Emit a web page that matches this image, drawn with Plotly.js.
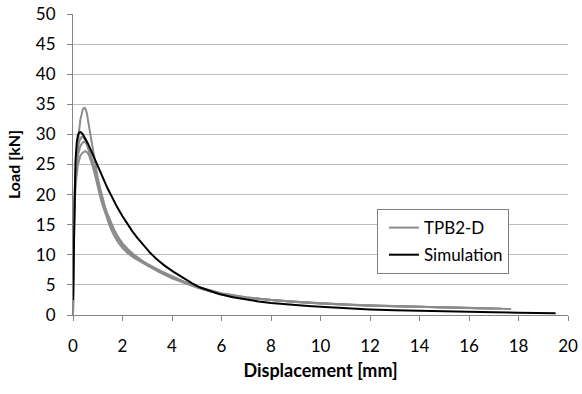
<!DOCTYPE html>
<html><head><meta charset="utf-8">
<script src="https://cdn.plot.ly/plotly-3.0.1.min.js"></script>
<style>body{margin:0;padding:0;background:#fff}#chart{width:582px;height:394px}</style>
</head><body><div id="chart"></div>
<script>
// Experimental specimens (TPB2-D)
const expA_x = [0,0.02,0.05,0.1,0.15,0.2,0.25,0.3,0.35,0.4,0.45,0.48,0.52,0.57,0.62,0.7,0.8,0.9,1.0,1.1,1.2,1.3,1.4,1.5,1.6,1.8,2.0,2.3,2.6,3.0,3.5,4.0,4.5,5.0,5.5,6,7,8,9,10,11,12,13,14,15,16,17,17.7];
const expA_y = [0,8,16,22,25.5,28.5,30.8,32.5,33.6,34.2,34.4,34.4,34.1,33.3,32,30,27.5,25,22.8,21,19.3,17.8,16.5,15.4,14.4,12.9,11.7,10.4,9.4,8.4,7.3,6.3,5.4,4.6,4.0,3.5,2.85,2.45,2.15,1.92,1.72,1.55,1.45,1.35,1.28,1.2,1.12,1.0];
const expB_x = [0,0.02,0.05,0.1,0.15,0.2,0.25,0.3,0.35,0.39,0.45,0.5,0.58,0.65,0.8,0.9,1.0,1.1,1.2,1.35,1.5,1.65,1.8,2.0,2.2,2.5,2.8,3.0,3.5,4.0,4.5,5.0,5.5,6,7,8,9,10,11,12,13,14,15,16,17.3];
const expB_y = [0,10,19,24,26.3,27.8,28.8,29.3,29.6,29.6,29.4,29,28.2,27.2,24.8,23,21.2,19.6,18.2,16.3,14.6,13.3,12.2,11.1,10.3,9.4,8.7,8.2,7.1,6.1,5.3,4.6,4.0,3.5,2.85,2.45,2.15,1.9,1.7,1.55,1.45,1.35,1.27,1.2,1.08];
const expC_x = [0,0.02,0.05,0.1,0.15,0.2,0.3,0.38,0.45,0.52,0.6,0.7,0.8,0.9,1.0,1.1,1.2,1.35,1.5,1.65,1.8,2.0,2.2,2.5,2.8,3.0,3.5,4.0,4.5,5.0,5.5,6,7,8,9,10,11,12,13,14,15,16.5];
const expC_y = [0,9,18,23,25.2,26.6,28.1,28.6,28.8,28.6,28,26.9,25.5,23.9,22.2,20.6,19.1,17.2,15.6,14.3,13.1,11.9,11.0,9.9,9.0,8.5,7.4,6.4,5.5,4.7,4.05,3.55,2.9,2.5,2.2,1.95,1.74,1.58,1.47,1.37,1.28,1.12];
const expD_x = [0,0.02,0.05,0.1,0.15,0.2,0.3,0.4,0.5,0.58,0.65,0.75,0.85,1.0,1.1,1.2,1.35,1.5,1.65,1.8,2.0,2.2,2.5,2.8,3.0,3.5,4.0,4.5,5.0,5.5,6,7,8,9,10,11,12,13,14,15,16,17];
const expD_y = [0,8,17,21.5,23.6,25,26.5,27.0,27.2,27.0,26.5,25.4,24,21.8,20.3,18.9,17.0,15.3,13.9,12.8,11.6,10.6,9.6,8.8,8.3,7.2,6.3,5.5,4.7,4.1,3.6,2.95,2.5,2.2,1.95,1.75,1.58,1.46,1.36,1.27,1.18,1.05];
// Simulation
const sim_x = [0,0.03,0.06,0.1,0.15,0.2,0.25,0.31,0.4,0.5,0.6,0.7,0.82,0.95,1.1,1.25,1.4,1.6,1.8,2.0,2.2,2.4,2.6,2.8,3.1,3.4,3.7,4.05,4.4,4.8,5.12,5.5,5.9,6.46,7.0,7.5,8.0,8.48,9.0,9.5,10,10.5,11.17,12,13,14,15,16,17,18,19,19.5];
const sim_y = [2.5,12,20,25.5,28.6,29.9,30.35,30.4,30.0,29.3,28.5,27.6,26.4,25.2,23.8,22.4,21.0,19.3,17.8,16.4,15.1,13.9,12.8,11.8,10.4,9.2,8.2,7.2,6.3,5.3,4.6,4.0,3.5,2.95,2.55,2.25,2.0,1.8,1.62,1.48,1.35,1.22,1.07,0.92,0.78,0.67,0.58,0.5,0.44,0.38,0.33,0.3];

const xTicks = [0,2,4,6,8,10,12,14,16,18,20];
const yTicks = [0,5,10,15,20,25,30,35,40,45,50];

const gray = '#8c8c8c';
const expSets = [[expA_x,expA_y],[expB_x,expB_y],[expC_x,expC_y],[expD_x,expD_y]];
const traces = expSets.map((s,i)=>({
  x:s[0], y:s[1], mode:'lines', type:'scatter', name:'TPB2-D',
  line:{color:gray,width:2},
  showlegend:i===0, legendgroup:'exp'
}));
traces.push({x:sim_x,y:sim_y,mode:'lines',type:'scatter',name:'Simulation',
  legendgroup:'sim', line:{color:'#000000',width:2}});

const fam = 'Lato, "Open Sans", sans-serif';
const layout = {
  width:582, height:394,
  margin:{l:73,r:14,t:14,b:79},
  paper_bgcolor:'#fff', plot_bgcolor:'#fff',
  font:{family:fam,size:17,color:'#000'},
  showlegend:true,
  legend:{x:0.614,y:0.352,xanchor:'left',yanchor:'top',bgcolor:'#fff',
    bordercolor:'#808080',borderwidth:1,font:{family:fam,size:17,color:'#000'},
    itemwidth:30, tracegroupgap:2, indentation:6},
  xaxis:{range:[0,20],tickvals:xTicks,ticktext:xTicks.map(String),
    showgrid:false,zeroline:false,showline:true,linecolor:'#868686',linewidth:1,
    ticks:'outside',ticklen:5,tickcolor:'#868686',ticklabelstandoff:11,
    tickfont:{family:fam,size:17},
    title:{text:'<b>Displacement [mm]</b>',font:{family:fam,size:18},standoff:8},
    fixedrange:true},
  yaxis:{range:[0,50],tickvals:yTicks,ticktext:yTicks.map(String),
    showgrid:true,gridcolor:'#bfbfbf',gridwidth:1,zeroline:false,
    showline:true,linecolor:'#868686',linewidth:1,
    ticks:'outside',ticklen:5,tickcolor:'#868686',ticklabelstandoff:8,
    tickfont:{family:fam,size:17},
    title:{text:'<b>Load [kN]</b>',font:{family:fam,size:16},standoff:11},
    fixedrange:true}
};
Plotly.newPlot('chart',traces,layout,{staticPlot:true,displayModeBar:false});
</script></body></html>
